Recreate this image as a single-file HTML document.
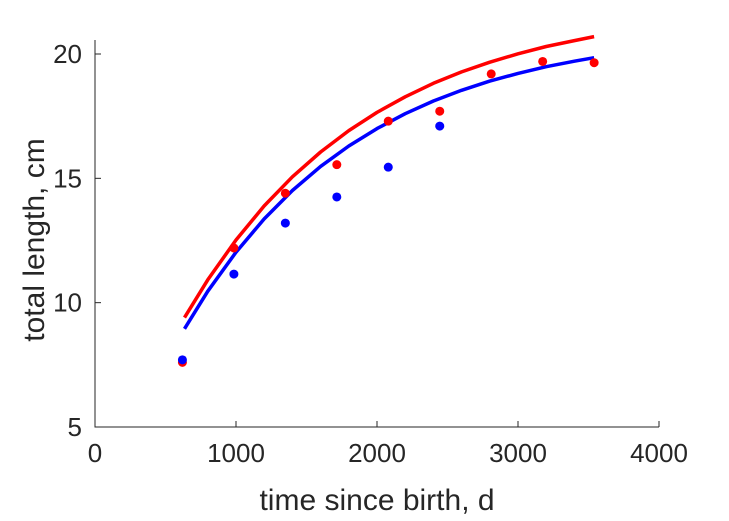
<!DOCTYPE html>
<html><head><meta charset="utf-8"><style>
body{margin:0;background:#fff;}
svg{display:block;font-family:"Liberation Sans",Arial,sans-serif;}
</style></head><body>
<svg id="chart" width="729" height="521"></svg>
<script>
const xTicks=[0,1000,2000,3000,4000];
const yTicks=[5,10,15,20];
const redT=[620,985,1350,1715,2080,2445,2810,3175,3540];
const redL=[7.6,12.2,14.4,15.55,17.3,17.7,19.2,19.7,19.65];
const blueT=[620,985,1350,1715,2080,2445];
const blueL=[7.7,11.15,13.2,14.25,15.45,17.1];
const curveT=[635,800,1000,1200,1400,1600,1800,2000,2200,2400,2600,2800,3000,3200,3400,3540];
const redCurve=[9.4,10.92,12.52,13.89,15.06,16.06,16.92,17.65,18.28,18.82,19.28,19.67,20.01,20.3,20.54,20.7];
const blueCurve=[8.95,10.46,12.03,13.37,14.51,15.48,16.3,17.0,17.6,18.11,18.54,18.91,19.22,19.49,19.71,19.85];

const NS="http://www.w3.org/2000/svg";
const svg=document.getElementById('chart');
const x0=95,x1=659,yTop=40,yBot=427;
const sx=v=>x0+(v-0)/(4000-0)*(x1-x0);
const sy=v=>427-(v-5)/(20-5)*(427-54);
function mk(tag,attrs){const e=document.createElementNS(NS,tag);for(const k in attrs)e.setAttribute(k,attrs[k]);svg.appendChild(e);return e;}

let ax=mk('path',{d:`M${x0},${yTop}V${yBot}H${x1}`,fill:'none',stroke:'#262626','stroke-width':1});


xTicks.forEach(t=>{
  const l=mk('line',{x1:sx(t),x2:sx(t),y1:yBot,y2:yBot-6,stroke:'#262626'});
  
  
  const tx=mk('text',{x:sx(t),y:yBot+35,'text-anchor':'middle','font-size':26,fill:'#262626'});
  tx.textContent=t;
  
  
});
yTicks.forEach(t=>{
  const l=mk('line',{x1:x0,x2:x0+6,y1:sy(t),y2:sy(t),stroke:'#262626'});
  
  
  const tx=mk('text',{x:x0-13,y:sy(t)+9,'text-anchor':'end','font-size':26,fill:'#262626'});
  tx.textContent=t;
  
  
});
const xt=mk('text',{x:377,y:510,'text-anchor':'middle','font-size':30,fill:'#262626'});
xt.textContent='time since birth, d';


const yt=mk('text',{x:0,y:0,'text-anchor':'middle','font-size':30,fill:'#262626',transform:'translate(44,240) rotate(-90)'});
yt.textContent='total length, cm';



function curve(arr,col,name){
  const d=curveT.map((t,i)=>(i?'L':'M')+sx(t).toFixed(1)+','+sy(arr[i]).toFixed(1)).join('');
  const p=mk('path',{d:d,fill:'none',stroke:col,'stroke-width':3.5,'stroke-linejoin':'round'});
  
  
}
curve(redCurve,'#ff0000','red-fit-curve');
curve(blueCurve,'#0000ff','blue-fit-curve');
redT.forEach((t,i)=>{
  const c=mk('circle',{cx:sx(t),cy:sy(redL[i]),r:4.5,fill:'#ff0000'});
  
  
});
blueT.forEach((t,i)=>{
  const c=mk('circle',{cx:sx(t),cy:sy(blueL[i]),r:4.5,fill:'#0000ff'});
  
  
});
</script>
</body></html>
